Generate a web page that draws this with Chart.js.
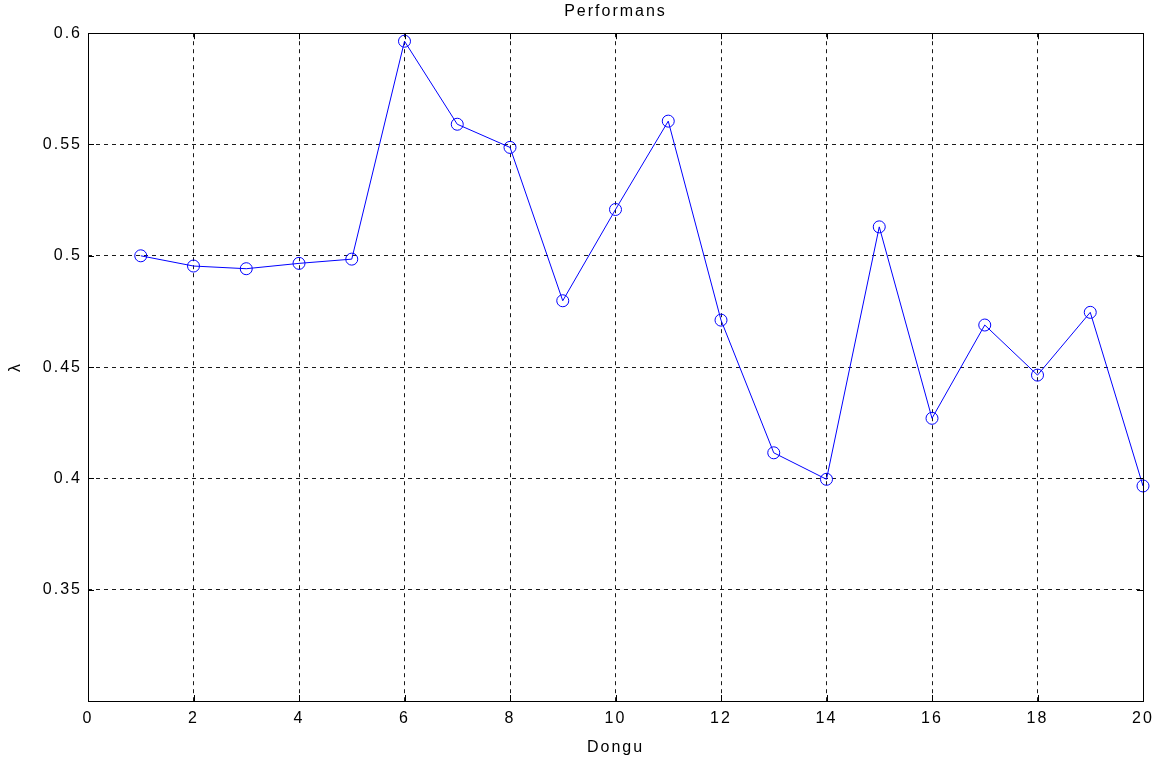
<!DOCTYPE html>
<html>
<head>
<meta charset="utf-8">
<script src="https://cdn.jsdelivr.net/npm/chart.js@4/dist/chart.umd.min.js"></script>
<style>
  html, body { margin: 0; padding: 0; background: #fff; }
  #wrap { width: 1168px; height: 763px; }
</style>
</head>
<body>
<div id="wrap"><canvas id="c"></canvas></div>
<script>
    "use strict";

    // iteration index (Dongu) and lambda values
    var dongu = [1, 2, 3, 4, 5, 6, 7, 8, 9, 10, 11, 12, 13, 14, 15, 16, 17, 18, 19, 20];
    var lambda = [0.5000, 0.4954, 0.4942, 0.4966, 0.4985, 0.5964, 0.5591, 0.5487, 0.4798, 0.5208,
                  0.5605, 0.4711, 0.4115, 0.3996, 0.5130, 0.4270, 0.4689, 0.4464, 0.4746, 0.3966];
    var xTicks = [0, 2, 4, 6, 8, 10, 12, 14, 16, 18, 20];
    var yTicks = [0.3, 0.35, 0.4, 0.45, 0.5, 0.55, 0.6];

    var FONT = "'Liberation Sans', Arial, Helvetica, sans-serif";

    var points = dongu.map(function (d, i) { return {x: d, y: lambda[i]}; });

    // matlab-ish text spacing
    var spacing = {
        id: 'spacing',
        beforeLayout: function (chart) { chart.ctx.letterSpacing = '2px'; },
        beforeDraw: function (chart) { chart.ctx.letterSpacing = '2px'; }
    };

    // box around plot + inward tick marks on all four sides
    var axesBox = {
        id: 'axesBox',
        afterDraw: function (chart) {
            var ctx = chart.ctx, a = chart.chartArea,
                xs = chart.scales.x, ys = chart.scales.y, len = 6;
            ctx.save();
            ctx.strokeStyle = '#000';
            ctx.lineWidth = 1;
            ctx.setLineDash([]);
            ctx.beginPath();
            xTicks.forEach(function (t) {
                var px = Math.round(xs.getPixelForValue(t)) + 0.5;
                ctx.moveTo(px, a.bottom); ctx.lineTo(px, a.bottom - len);
                ctx.moveTo(px, a.top); ctx.lineTo(px, a.top + len);
            });
            yTicks.forEach(function (t) {
                var py = Math.round(ys.getPixelForValue(t)) + 0.5;
                ctx.moveTo(a.left, py); ctx.lineTo(a.left + len, py);
                ctx.moveTo(a.right, py); ctx.lineTo(a.right - len, py);
            });
            ctx.stroke();
            ctx.strokeRect(Math.round(a.left) + 0.5, Math.round(a.top) + 0.5,
                Math.round(a.right - a.left), Math.round(a.bottom - a.top));
            ctx.restore();
        }
    };

    new Chart(document.getElementById('c'), {
        type: 'line',
        data: {
            datasets: [{
                data: points,
                borderColor: '#0000ff',
                borderWidth: 1,
                pointStyle: 'circle',
                pointRadius: 6,
                pointBorderWidth: 1,
                pointBorderColor: '#0000ff',
                pointBackgroundColor: 'rgba(0,0,0,0)',
                tension: 0,
                clip: false
            }]
        },
        options: {
            responsive: true,
            maintainAspectRatio: false,
            animation: false,
            layout: { padding: { left: 0, right: 25, top: 0, bottom: 0 } },
            plugins: {
                legend: { display: false },
                tooltip: { enabled: false },
                title: {
                    display: true,
                    text: 'Performans',
                    fullSize: false,
                    color: '#000',
                    font: { family: FONT, size: 16, weight: 'normal' },
                    padding: { top: 2, bottom: 12 }
                }
            },
            scales: {
                x: {
                    type: 'linear',
                    min: 0,
                    max: 20,
                    afterFit: function (s) { s.height = 62; },
                    afterBuildTicks: function (s) {
                        s.ticks = xTicks.map(function (v) { return {value: v}; });
                    },
                    ticks: {
                        color: '#000',
                        padding: 8,
                        maxRotation: 0,
                        font: { family: FONT, size: 16 }
                    },
                    grid: {
                        color: '#1a1a1a',
                        lineWidth: 1,
                        drawTicks: false
                    },
                    border: { display: false, dash: [4, 4] },
                    title: {
                        display: true,
                        text: 'Dongu',
                        color: '#000',
                        font: { family: FONT, size: 16 },
                        padding: { top: 0, bottom: 6 }
                    }
                },
                y: {
                    type: 'linear',
                    min: 0.3,
                    max: 0.6,
                    afterFit: function (s) { s.width = 88; },
                    afterBuildTicks: function (s) {
                        s.ticks = yTicks.map(function (v) { return {value: v}; });
                    },
                    ticks: {
                        color: '#000',
                        padding: 6,
                        font: { family: FONT, size: 16 },
                        callback: function (v) {
                            if (Math.abs(v - 0.3) < 1e-9) { return ''; }
                            return String(+v.toFixed(2));
                        }
                    },
                    grid: {
                        color: '#1a1a1a',
                        lineWidth: 1,
                        drawTicks: false
                    },
                    border: { display: false, dash: [4, 4] },
                    title: {
                        display: true,
                        text: 'λ',
                        color: '#000',
                        font: { family: FONT, size: 16 },
                        padding: { top: 6, bottom: 0 }
                    }
                }
            }
        },
        plugins: [spacing, axesBox]
    });
</script>
</body>
</html>
